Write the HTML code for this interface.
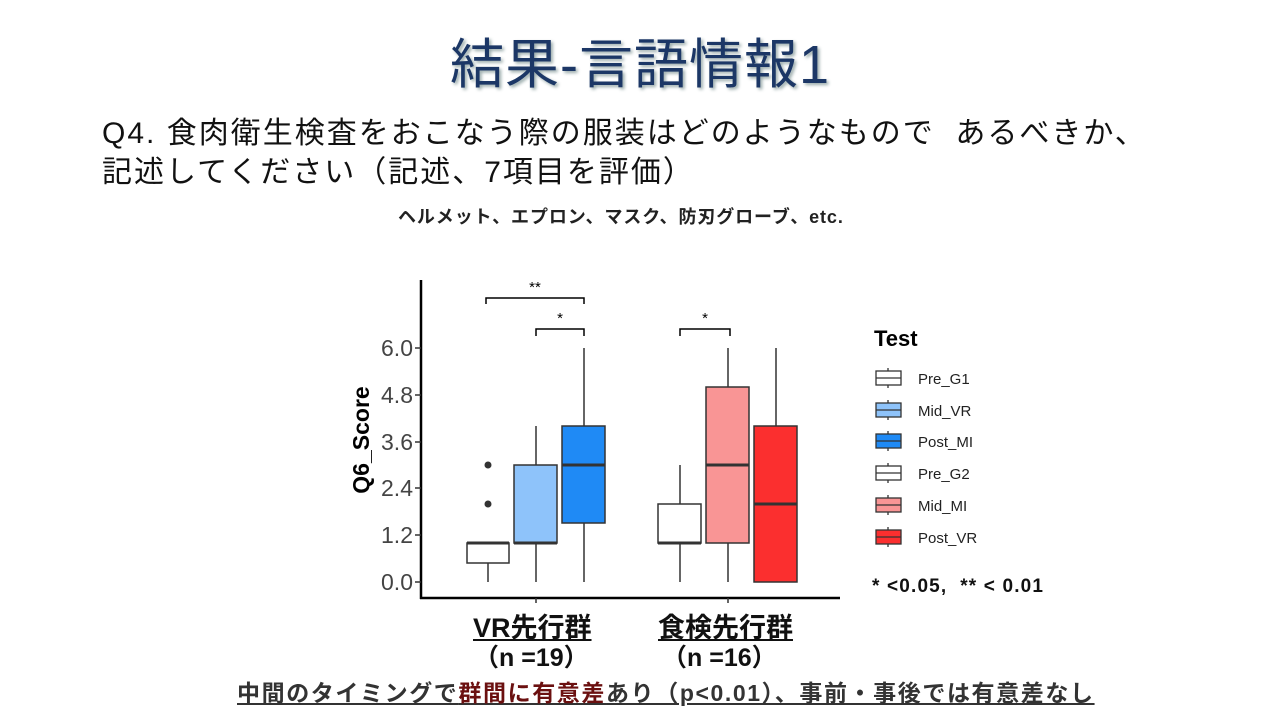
<!DOCTYPE html>
<html><head><meta charset="utf-8"><style>
body{margin:0;width:1280px;height:720px;background:#fff;overflow:hidden;position:relative;font-family:"Liberation Sans","Noto Sans CJK JP",sans-serif}
.t{position:absolute;white-space:nowrap}
</style></head><body>
<div class="t" style="left:0;width:1280px;text-align:center;top:20px;font-size:54px;letter-spacing:1px;color:#1c3766;text-shadow:2px 2px 3px #9aa">結果-言語情報1</div>
<div class="t" style="left:102px;top:114px;font-size:30px;letter-spacing:2.0px;color:#111;line-height:39px">Q4. 食肉衛生検査をおこなう際の服装はどのようなもので&nbsp;&nbsp;あるべきか、<br>記述してください（記述、7項目を評価）</div>
<div class="t" style="left:398px;top:203px;font-size:18px;letter-spacing:0.9px;color:#222;font-weight:bold">ヘルメット、エプロン、マスク、防刃グローブ、etc.</div>
<svg width="1280" height="720" style="position:absolute;left:0;top:0" font-family="Liberation Sans, sans-serif">
<g stroke="#333" stroke-width="1.5">
<line x1="488" y1="582" x2="488" y2="563"/>
<line x1="536" y1="582" x2="536" y2="426"/>
<line x1="584" y1="582" x2="584" y2="348"/>
<line x1="680" y1="582" x2="680" y2="465"/>
<line x1="728" y1="582" x2="728" y2="348"/>
<line x1="776" y1="582" x2="776" y2="348"/>
<rect x="467" y="543" width="42" height="20" fill="#fff"/>
<rect x="514" y="465" width="43" height="78" fill="#8ec3fa"/>
<rect x="562" y="426" width="43" height="97" fill="#1f8af5"/>
<rect x="658" y="504" width="43" height="39" fill="#fff"/>
<rect x="706" y="387" width="43" height="156" fill="#f99595"/>
<rect x="754" y="426" width="43" height="156" fill="#fb2f2f"/>
</g>
<g stroke="#333" stroke-width="3">
<line x1="467" y1="543" x2="509" y2="543"/>
<line x1="514" y1="543" x2="557" y2="543"/>
<line x1="562" y1="465" x2="605" y2="465"/>
<line x1="658" y1="543" x2="701" y2="543"/>
<line x1="706" y1="465" x2="749" y2="465"/>
<line x1="754" y1="504" x2="797" y2="504"/>
</g>
<circle cx="488" cy="465" r="3.5" fill="#333"/><circle cx="488" cy="504" r="3.5" fill="#333"/>
<g stroke="#000" stroke-width="1.5" fill="none">
<polyline points="486,304 486,298 584,298 584,304"/>
<polyline points="536,336 536,329 584,329 584,336"/>
<polyline points="680,336 680,329 730,329 730,336"/>
</g>
<g font-size="15" text-anchor="middle" fill="#000"><text x="535" y="292">**</text><text x="560" y="323">*</text><text x="705" y="323">*</text></g>
<line x1="421" y1="280" x2="421" y2="599" stroke="#000" stroke-width="2.5"/>
<line x1="420" y1="598" x2="840" y2="598" stroke="#000" stroke-width="2.5"/>
<g stroke="#333" stroke-width="1.5"><line x1="536" y1="598" x2="536" y2="603"/><line x1="728" y1="598" x2="728" y2="603"/>
<line x1="415" y1="582" x2="421" y2="582"/><line x1="415" y1="535" x2="421" y2="535"/><line x1="415" y1="488" x2="421" y2="488"/><line x1="415" y1="442" x2="421" y2="442"/><line x1="415" y1="395" x2="421" y2="395"/><line x1="415" y1="348" x2="421" y2="348"/></g>
<g font-size="23" fill="#444" text-anchor="end"><text x="413" y="590">0.0</text><text x="413" y="543">1.2</text><text x="413" y="496">2.4</text><text x="413" y="450">3.6</text><text x="413" y="403">4.8</text><text x="413" y="356">6.0</text></g>
<text transform="translate(369,440) rotate(-90)" font-size="23" font-weight="bold" text-anchor="middle" fill="#000">Q6_Score</text>
<text x="874" y="346" font-size="22" font-weight="bold" fill="#000">Test</text>
<g stroke="#333" stroke-width="1.3">
<g transform="translate(0,378)"><line x1="888" y1="-10" x2="888" y2="10"/><rect x="876" y="-7" width="25" height="14" fill="#fff"/><line x1="876" y1="0" x2="901" y2="0"/></g>
<g transform="translate(0,410)"><line x1="888" y1="-10" x2="888" y2="10"/><rect x="876" y="-7" width="25" height="14" fill="#8ec3fa"/><line x1="876" y1="0" x2="901" y2="0"/></g>
<g transform="translate(0,441)"><line x1="888" y1="-10" x2="888" y2="10"/><rect x="876" y="-7" width="25" height="14" fill="#1f8af5"/><line x1="876" y1="0" x2="901" y2="0"/></g>
<g transform="translate(0,473)"><line x1="888" y1="-10" x2="888" y2="10"/><rect x="876" y="-7" width="25" height="14" fill="#fff"/><line x1="876" y1="0" x2="901" y2="0"/></g>
<g transform="translate(0,505)"><line x1="888" y1="-10" x2="888" y2="10"/><rect x="876" y="-7" width="25" height="14" fill="#f99595"/><line x1="876" y1="0" x2="901" y2="0"/></g>
<g transform="translate(0,537)"><line x1="888" y1="-10" x2="888" y2="10"/><rect x="876" y="-7" width="25" height="14" fill="#fb2f2f"/><line x1="876" y1="0" x2="901" y2="0"/></g>
</g>
<g font-size="15" fill="#222"><text x="918" y="384">Pre_G1</text><text x="918" y="416">Mid_VR</text><text x="918" y="447">Post_MI</text><text x="918" y="479">Pre_G2</text><text x="918" y="511">Mid_MI</text><text x="918" y="543">Post_VR</text></g>
<text x="872" y="592" font-size="19" font-weight="bold" fill="#111" xml:space="preserve" textLength="171">* &lt;0.05,  ** &lt; 0.01</text>
</svg>
<div class="t" style="left:473px;top:606px;font-size:27px;font-weight:bold;text-decoration:underline;color:#111">VR先行群</div>
<div class="t" style="left:658px;top:606px;font-size:27px;font-weight:bold;text-decoration:underline;color:#111">食検先行群</div>
<div class="t" style="left:474px;top:638px;font-size:25px;font-weight:bold;color:#111">（n =19）</div>
<div class="t" style="left:662px;top:638px;font-size:25px;font-weight:bold;color:#111">（n =16）</div>
<div class="t" style="left:237px;top:674px;font-size:23px;letter-spacing:1.6px;font-weight:bold;text-decoration:underline;color:#333">中間のタイミングで<span style="color:#6b1010">群間に有意差</span>あり（p&lt;0.01）、事前・事後では有意差なし</div>
</body></html>
